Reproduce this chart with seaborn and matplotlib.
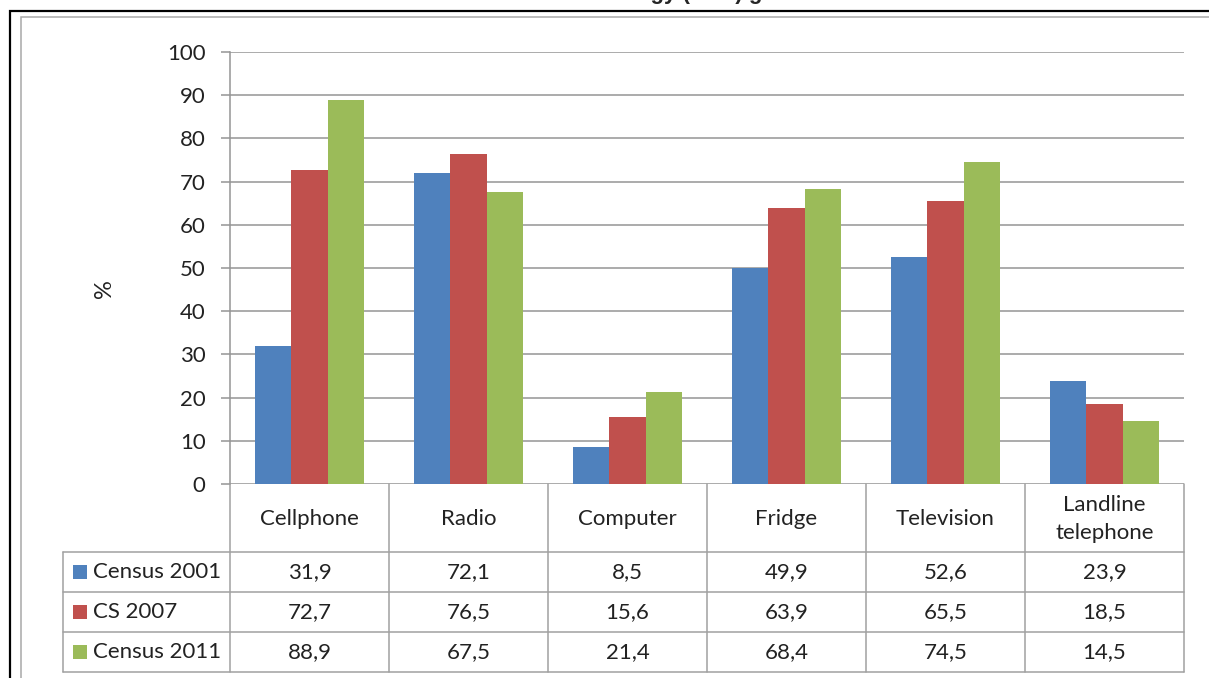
import matplotlib
matplotlib.use("Agg")
import matplotlib.pyplot as plt
from matplotlib.patches import Rectangle
import pandas as pd
import seaborn as sns

# Household access to technology, by survey
categories = ["Cellphone", "Radio", "Computer", "Fridge", "Television", "Landline\ntelephone"]
series = ["Census 2001", "CS 2007", "Census 2011"]
census_2001 = [31.9, 72.1, 8.5, 49.9, 52.6, 23.9]
cs_2007 = [72.7, 76.5, 15.6, 63.9, 65.5, 18.5]
census_2011 = [88.9, 67.5, 21.4, 68.4, 74.5, 14.5]
y_ticks = [0, 10, 20, 30, 40, 50, 60, 70, 80, 90, 100]
palette = ["#4F81BD", "#C0504D", "#9BBB59"]
title = "Access to technology (in %) growth"

sns.set_style("white")
plt.rcParams["font.family"] = ["Lato", "DejaVu Sans"]

W, H = 1209, 678
fig = plt.figure(figsize=(W / 100, H / 100), dpi=100)

# plot area in pixel units
px_left, px_right, px_top, px_bottom = 230, 1184, 52, 484
ax = fig.add_axes([px_left / W, 1 - px_bottom / H,
                   (px_right - px_left) / W, (px_bottom - px_top) / H])

values = [census_2001, cs_2007, census_2011]
rows = []
for s, vals in zip(series, values):
    for c, v in zip(categories, vals):
        rows.append({"category": c, "series": s, "value": v})
df = pd.DataFrame(rows)

sns.barplot(data=df, x="category", y="value", hue="series", order=categories,
            hue_order=series, palette=palette, saturation=1, width=0.68,
            legend=False, ax=ax, linewidth=0, zorder=3)

ax.set_xlim(-0.5, len(categories) - 0.5)
ax.set_ylim(0, 100)
ax.set_yticks(y_ticks)
ax.set_yticklabels([str(t) for t in y_ticks], fontsize=16, color="#222222")
ax.set_xticks([])
ax.set_xlabel("")
ax.set_ylabel("")
ax.yaxis.grid(True, color="#959595", linewidth=1.1)
ax.set_axisbelow(True)
for side in ["top", "right", "bottom"]:
    ax.spines[side].set_visible(False)
ax.spines["left"].set_color("#959595")
ax.spines["left"].set_linewidth(1.1)
ax.tick_params(axis="y", length=6.5, width=1.1, color="#959595", pad=11, left=True)

# overlay in pixel coordinates for the data table and frame
ov = fig.add_axes([0, 0, 1, 1], zorder=5)
ov.set_xlim(0, W)
ov.set_ylim(H, 0)
ov.axis("off")

line_c = "#a0a0a0"
txt_c = "#222222"
n = len(categories)
cw = (px_right - px_left) / n
header_bottom = 552
row_h = 40
table_bottom = header_bottom + row_h * len(series)
legend_left = 63

# vertical cell borders
for i in range(n + 1):
    x = px_left + i * cw
    ov.plot([x, x], [px_bottom, table_bottom], color=line_c, lw=1.1)
ov.plot([legend_left, legend_left], [header_bottom, table_bottom], color=line_c, lw=1.1)
# horizontal cell borders
for r in range(len(series) + 1):
    y = header_bottom + r * row_h
    ov.plot([legend_left, px_right], [y, y], color=line_c, lw=1.1)

# header row
for i, c in enumerate(categories):
    ov.text(px_left + (i + 0.5) * cw, (px_bottom + header_bottom) / 2 + 1, c,
            ha="center", va="center", fontsize=16, color=txt_c, linespacing=1.5)

# data rows
for r, (s, vals, col) in enumerate(zip(series, values, palette)):
    yc = header_bottom + (r + 0.5) * row_h
    ov.add_patch(Rectangle((73, yc - 7), 14, 14, color=col, lw=0))
    ov.text(93, yc, s, ha="left", va="center", fontsize=16, color=txt_c)
    for i, v in enumerate(vals):
        ov.text(px_left + (i + 0.5) * cw, yc, f"{v:.1f}".replace(".", ","),
                ha="center", va="center", fontsize=16, color=txt_c)

# y axis title
ov.text(104, 289, "%", rotation=90, ha="center", va="center", fontsize=17, color=txt_c)

# outer frames
ov.plot([10, 10, W], [H, 11, 11], color="black", lw=1.6, solid_joinstyle="miter")
ov.plot([21, 21, W], [H, 17, 17], color="#a8a8a8", lw=1.1, solid_joinstyle="miter")

# figure title, mostly above the visible area
fig.text(635 / W, 1 + 1 / H, title, ha="center", va="baseline",
         fontsize=16, fontweight="bold", family=["Liberation Sans", "DejaVu Sans"])

fig.savefig("out.png", dpi=100)
